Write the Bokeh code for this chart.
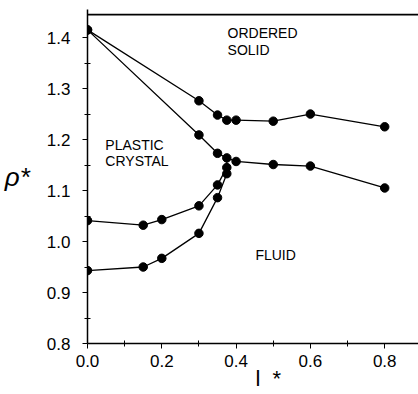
from bokeh.plotting import figure
from bokeh.models import (FixedTicker, PrintfTickFormatter, Label, Range1d)
from bokeh.embed import file_html
from bokeh.resources import INLINE

# ordered solid branch (upper curve)
x_solid = [0.0, 0.30, 0.35, 0.375, 0.40, 0.50, 0.60, 0.80]
y_solid = [1.415, 1.276, 1.248, 1.238, 1.238, 1.236, 1.250, 1.225]

# coexisting lower-density branch of ordered solid transition
x_mid = [0.0, 0.30, 0.35, 0.375, 0.40, 0.50, 0.60, 0.80]
y_mid = [1.415, 1.209, 1.173, 1.164, 1.157, 1.151, 1.148, 1.105]

# plastic crystal branch at plastic-fluid coexistence
x_plastic = [0.0, 0.15, 0.20, 0.30, 0.35, 0.375]
y_plastic = [1.041, 1.032, 1.043, 1.070, 1.111, 1.145]

# fluid branch at plastic-fluid coexistence
x_fluid = [0.0, 0.15, 0.20, 0.30, 0.35, 0.375]
y_fluid = [0.943, 0.950, 0.967, 1.016, 1.086, 1.133]

x_ticks = [0.0, 0.2, 0.4, 0.6, 0.8]
y_ticks = [0.8, 0.9, 1.0, 1.1, 1.2, 1.3, 1.4]

FONT = "Liberation Sans"
X_END = 0.891
Y_END = 1.455

p = figure(width=418, height=394, output_backend="svg", toolbar_location=None,
           x_range=Range1d(0.0, X_END), y_range=Range1d(0.8, Y_END),
           min_border_left=87, min_border_right=0, min_border_top=9,
           min_border_bottom=51)
p.outline_line_color = None
p.grid.visible = False
p.background_fill_color = "white"

for xs, ys in [(x_solid, y_solid), (x_mid, y_mid), (x_plastic, y_plastic), (x_fluid, y_fluid)]:
    p.line(xs, ys, line_color="black", line_width=1.3)
    p.scatter(xs, ys, size=8.5, color="black")

# join the plastic/fluid branches to the triple point
p.line([x_plastic[-1], x_mid[3]], [y_plastic[-1], y_mid[3]], line_color="black", line_width=1.3)
p.line([x_fluid[-1], x_plastic[-1]], [y_fluid[-1], y_plastic[-1]], line_color="black", line_width=1.3)

# top frame line (drawn a little inside the frame)
Y_TOP = Y_END - 0.010
p.line(x=[0.0, X_END], y=[Y_TOP, Y_TOP], line_color="#000000", line_width=1.6)

xa = p.xaxis[0]
xa.ticker = FixedTicker(ticks=x_ticks, minor_ticks=[0.1, 0.3, 0.5, 0.7])
xa.formatter = PrintfTickFormatter(format="%.1f")
ya = p.yaxis[0]
ya.ticker = FixedTicker(ticks=y_ticks, minor_ticks=[0.85, 0.95, 1.05, 1.15, 1.25, 1.35])
ya.formatter = PrintfTickFormatter(format="%.1f")
for ax in (xa, ya):
    ax.axis_line_color = "black"
    ax.axis_line_width = 1.5
    ax.major_tick_line_color = "black"
    ax.minor_tick_line_color = "black"
    ax.major_tick_out = 5
    ax.major_tick_in = 0
    ax.minor_tick_out = 3
    ax.minor_tick_in = 3
    ax.major_label_text_font = FONT
    ax.major_label_text_font_size = "17px"
    ax.major_label_text_color = "black"
    ax.axis_label_text_font = FONT
    ax.axis_label_text_font_style = "normal"
    ax.axis_label_text_color = "black"
xa.major_label_standoff = 6
ya.major_label_standoff = 12

xa.axis_label = "\u00a0\u00a0\u00a0\u00a0\u00a0l\u00a0\u00a0*"
xa.axis_label_text_font_size = "22px"
xa.axis_label_standoff = -4

ya.axis_label = "\u03c1*"
ya.axis_label_text_font_size = "26px"
ya.axis_label_text_font_style = "italic"
ya.axis_label_standoff = 14
try:
    ya.axis_label_orientation = "horizontal"
except Exception:
    pass

def lab(x, y, t, size="14px"):
    p.add_layout(Label(x=x, y=y, text=t, text_font=FONT, text_font_size=size,
                       text_color="black", text_baseline="middle", text_align="left"))

lab(0.377, 1.408, "ORDERED")
lab(0.377, 1.375, "SOLID")
lab(0.048, 1.190, "PLASTIC")
lab(0.048, 1.157, "CRYSTAL")
lab(0.452, 0.973, "FLUID")

open("out.html", "w").write(file_html(p, INLINE))
